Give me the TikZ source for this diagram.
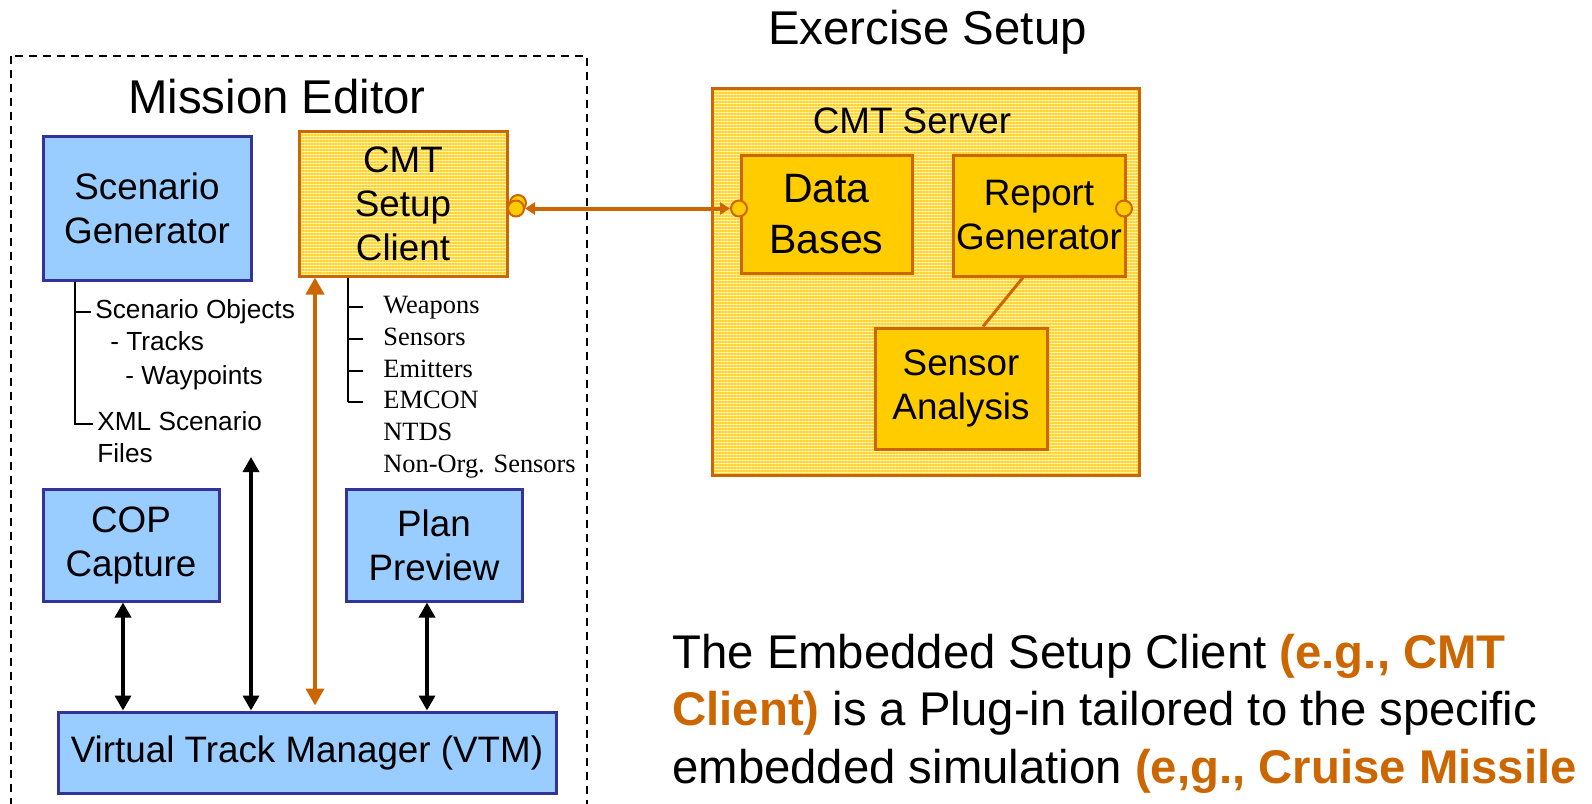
\documentclass[tikz,border=0pt]{standalone}
\usepackage{fontspec}
\setmainfont{Liberation Sans}
\newfontfamily\serifface{Liberation Serif}
\usepackage{tikz}
\usetikzlibrary{calc}
\usetikzlibrary{arrows.meta}
\usetikzlibrary{patterns.meta}
\definecolor{boxblue}{RGB}{153,204,255}
\definecolor{edgeblue}{RGB}{51,51,153}
\definecolor{cmtorange}{RGB}{204,102,0}
\definecolor{cmtgold}{RGB}{255,204,0}
\definecolor{stripelight}{RGB}{255,243,178}
\definecolor{stripedark}{RGB}{255,210,45}
\newcommand{\orangebold}[1]{\textcolor{cmtorange}{\bfseries #1}}
\tikzstyle{bluebox}=[%
  draw=edgeblue,
  fill=boxblue,
  line width=1.5pt,
  inner sep=0pt,
  align=center,
  font=\fontsize{18.4}{22}\selectfont
]
\tikzstyle{stripebox}=[%
  draw=cmtorange,
  preaction={fill=stripelight},
  pattern={Lines[angle=0,distance=1.5pt,line width=0.7pt]},
  pattern color=stripedark,
  line width=1.5pt,
  inner sep=0pt,
  align=center,
  font=\fontsize{18.4}{22}\selectfont
]
\tikzstyle{goldbox}=[%
  draw=cmtorange,
  fill=cmtgold,
  line width=1.5pt,
  inner sep=0pt,
  align=center,
  font=\fontsize{18.4}{22}\selectfont
]
\tikzstyle{title}=[inner sep=0pt, font=\fontsize{23.7}{28}\selectfont]
\tikzstyle{item}=[inner xsep=2pt, text height=9pt, text depth=3pt, font=\fontsize{13.1}{16}\selectfont]
\tikzstyle{serifitem}=[inner xsep=2pt, text height=9pt, text depth=3pt, font=\serifface\fontsize{13.2}{16}\selectfont]
\tikzstyle{para}=[inner sep=0pt, font=\fontsize{23.65}{28.75}\selectfont]
\tikzstyle{tree}=[line width=1pt]
\tikzstyle{blackarrow}=[line width=1.75pt, {Triangle[length=7.5pt,width=8pt]}-{Triangle[length=7.5pt,width=8pt]}]
\tikzstyle{orangearrow}=[draw=cmtorange, line width=2pt, {Triangle[length=8.5pt,width=9pt]}-{Triangle[length=8.5pt,width=9pt]}]
\tikzstyle{port}=[circle, draw=cmtorange, fill=cmtgold, line width=1pt, minimum size=8pt, inner sep=0pt]
\tikzstyle{link}=[draw=cmtorange, line width=1.5pt]
\begin{document}
\begin{tikzpicture}[x=0.5pt,y=-0.5pt]
      \useasboundingbox (0,0) rectangle (1592,804);
      \draw[line width=0.9pt, dash pattern=on 4pt off 3pt] (11,56) rectangle (587,830);
      \node[title, anchor=base] (editor) at (277,113) {Mission Editor};
      \node[title, anchor=base] (exercise) at (927.5,44) {Exercise Setup};
      \node[bluebox, minimum width=104pt, minimum height=72pt] (scen) at (147,208) {Scenario\\Generator};
      \node[stripebox, minimum width=104pt, minimum height=72.5pt] (client) at (403,203.5) {CMT\\Setup\\Client};
      \node[bluebox, minimum width=88pt, minimum height=56pt] (cop) at (131,545) {COP\\Capture};
      \node[bluebox, minimum width=88pt, minimum height=56pt] (plan) at (434,545) {Plan\\Preview};
      \node[bluebox, minimum width=249pt, minimum height=40.5pt] (vtm) at (307,752.5) {Virtual Track Manager (VTM)};
      \node[stripebox, minimum width=213.5pt, minimum height=193.5pt] (server) at (925.5,281.5) {};
      \node[title, anchor=base, font=\fontsize{18.4}{22}\selectfont] (serverlabel) at (912,133) {CMT Server};
      \node[goldbox, minimum width=85.5pt, minimum height=59pt, font=\fontsize{20.5}{25.5}\selectfont] (db) at (826.5,214) {Data\\Bases};
      \node[goldbox, minimum width=86pt, minimum height=60.5pt] (report) at (1039,215.5) {Report\\Generator};
      \node[goldbox, minimum width=86pt, minimum height=60.5pt] (sensor) at (961,388.5) {Sensor\\Analysis};
      % scenario contents
      \coordinate (sstem) at (75,0);
      \foreach \id/\txt/\x/\y in {objs/Scenario Objects/91/318, trk/- Tracks/106/350, wpt/- Waypoints/121/384, xml/XML Scenario/93/430, files/Files/93/462} {%
        \node[item, anchor=base west] (\id) at (\x,\y) {\txt};
      }
      \draw[tree] (scen.south -| sstem) |- (objs.west);
      \draw[tree] (scen.south -| sstem) |- (xml.west);
      % setup contents
      \coordinate (cstem) at (348,0);
      \foreach \id/\txt/\y in {weap/Weapons/313, sens/Sensors/345, emit/Emitters/377, emcon/EMCON/408, ntds/NTDS/440, nonorg/Non-Org. Sensors/472} {%
        \node[serifitem, anchor=base west] (\id) at (379,\y) {\txt};
      }
      \draw[tree] (client.south -| cstem) -- (cstem |- emcon.west);
      \foreach \id in {weap,sens,emit,emcon} {%
        \draw[tree] (cstem |- \id.west) -- ++(15,0);
      }
      % links to the VTM
      \coordinate (copx) at (123,0);
      \coordinate (midtop) at (251,457);
      \coordinate (cmtx) at (315,0);
      \coordinate (planx) at (427,0);
      \draw[blackarrow] (cop.south -| copx) -- (vtm.north -| copx);
      \draw[blackarrow] (midtop) -- (vtm.north -| midtop);
      \draw[orangearrow, shorten >=2.5pt] (client.south -| cmtx) -- (vtm.north -| cmtx);
      \draw[blackarrow] (plan.south -| planx) -- (vtm.north -| planx);
      % client to server
      \node[port] (cport2) at (518,203) {};
      \node[port] (cport) at (516,208.5) {};
      \node[port] (dport) at (739,208.5) {};
      \node[port] (rport) at (1124,208.5) {};
      \draw[link, line width=2pt, {Triangle[length=5pt,width=6pt]}-{Triangle[length=5pt,width=6pt]}] (cport) -- (dport);
      \coordinate (rsx) at (1023,0);
      \coordinate (snx) at (983,0);
      \draw[link] (report.south -| rsx) -- (sensor.north -| snx);
      % note
      \node[para, anchor=base west] (line1) at (672,668) {The Embedded Setup Client \orangebold{(e.g., CMT}};
      \node[para, anchor=base west] (line2) at (672,725.5) {\orangebold{Client)} is a Plug-in tailored to the specific};
      \node[para, anchor=base west] (line3) at (672,783) {embedded simulation \orangebold{(e,g., Cruise Missile}};
    \end{tikzpicture}
\end{document}
